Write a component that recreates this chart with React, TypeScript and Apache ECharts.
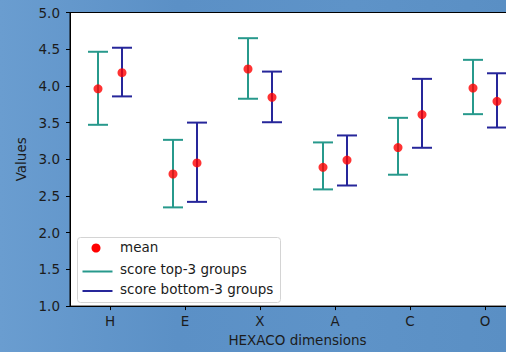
import React, { useEffect, useRef } from "react";
import * as echarts from "echarts";

const categories = ["H", "E", "X", "A", "C", "O"];
const topMean = [3.96, 2.8, 4.23, 2.89, 3.16, 3.97];
const topLow = [3.47, 2.345, 3.825, 2.59, 2.79, 3.615];
const topHigh = [4.465, 3.265, 4.65, 3.23, 3.565, 4.355];
const botMean = [4.18, 2.95, 3.845, 2.99, 3.61, 3.79];
const botLow = [3.857, 2.42, 3.505, 2.643, 3.157, 3.433];
const botHigh = [4.52, 3.5, 4.195, 3.325, 4.096, 4.172];

const OFFSET = 0.16;
const TEAL = "#27998c";
const NAVY = "#26269a";
const FONT = "DejaVu Sans";
const TXT = "#1c1c1c";

function errorSeries(name: string, color: string, low: number[], high: number[], off: number) {
  const data = categories.map((_, i) => [i + off, low[i], high[i]]);
  return {
    type: "custom",
    name,
    data,
    encode: { x: 0, y: [1, 2] },
    renderItem: (params: any, api: any) => {
      const x = api.value(0);
      const lo = api.coord([x, api.value(1)]);
      const hi = api.coord([x, api.value(2)]);
      const cap = 10;
      const style = { stroke: color, lineWidth: 2 };
      return {
        type: "group",
        children: [
          { type: "line", shape: { x1: lo[0], y1: lo[1], x2: hi[0], y2: hi[1] }, style },
          { type: "line", shape: { x1: lo[0] - cap, y1: lo[1], x2: lo[0] + cap, y2: lo[1] }, style },
          { type: "line", shape: { x1: hi[0] - cap, y1: hi[1], x2: hi[0] + cap, y2: hi[1] }, style },
        ],
      };
    },
    z: 2,
  };
}

export default function App() {
  const ref = useRef<HTMLDivElement>(null);
  useEffect(() => {
    if (!ref.current) return;
    const chart = echarts.init(ref.current, null, { renderer: "svg" });
    const meanData = [
      ...categories.map((_, i) => [i - OFFSET, topMean[i]]),
      ...categories.map((_, i) => [i + OFFSET, botMean[i]]),
    ];
    const legendText = (text: string, y: number) => ({
      type: "text",
      left: 120,
      top: y - 8,
      style: { text, font: `13.5px "${FONT}"`, fill: TXT },
      z: 20,
    });
    chart.setOption({
      animation: false,
      backgroundColor: "transparent",
      grid: {
        left: 70,
        top: 12.5,
        bottom: 44,
        right: 5,
        show: true,
        backgroundColor: "#ffffff",
        borderColor: "#000000",
        borderWidth: 1,
      },
      xAxis: {
        type: "value",
        min: -0.5333,
        max: 5.5333,
        name: "HEXACO dimensions",
        nameLocation: "middle",
        nameGap: 26,
        nameTextStyle: { fontFamily: FONT, fontSize: 13.5, color: TXT },
        axisLine: { show: true, onZero: false, lineStyle: { color: "#000", width: 1 } },
        axisTick: { show: true, length: 4, customValues: [0, 1, 2, 3, 4, 5], lineStyle: { color: "#000" } },
        axisLabel: {
          customValues: [0, 1, 2, 3, 4, 5],
          formatter: (v: number) => categories[Math.round(v)] ?? "",
          fontFamily: FONT,
          fontSize: 13.5,
          color: TXT,
          margin: 8,
        },
        splitLine: { show: false },
      },
      yAxis: {
        type: "value",
        min: 1,
        max: 5,
        interval: 0.5,
        name: "Values",
        nameLocation: "middle",
        nameGap: 40,
        nameTextStyle: { fontFamily: FONT, fontSize: 13.5, color: TXT },
        axisLine: { show: true, onZero: false, lineStyle: { color: "#000", width: 1 } },
        axisTick: { show: true, length: 4, lineStyle: { color: "#000" } },
        axisLabel: {
          formatter: (v: number) => v.toFixed(1),
          fontFamily: FONT,
          fontSize: 13.5,
          color: TXT,
          margin: 10,
        },
        splitLine: { show: false },
      },
      series: [
        errorSeries("score top-3 groups", TEAL, topLow, topHigh, -OFFSET),
        errorSeries("score bottom-3 groups", NAVY, botLow, botHigh, OFFSET),
        {
          type: "scatter",
          name: "mean",
          data: meanData,
          symbol: "circle",
          symbolSize: 9,
          itemStyle: { color: "#ff0000" },
          z: 5,
        },
      ],
      graphic: [
        {
          type: "rect",
          left: 77,
          top: 237,
          shape: { width: 203, height: 65, r: 3 },
          style: { fill: "rgba(255,255,255,0.85)", stroke: "#d4d4d4", lineWidth: 1 },
          z: 10,
        },
        { type: "circle", left: 91.5, top: 243.5, shape: { r: 4.5 }, style: { fill: "#ff0000" }, z: 20 },
        { type: "line", left: 80, top: 269, shape: { x1: 0, y1: 0, x2: 30, y2: 0 }, style: { stroke: TEAL, lineWidth: 2 }, z: 20 },
        { type: "line", left: 80, top: 288.5, shape: { x1: 0, y1: 0, x2: 30, y2: 0 }, style: { stroke: NAVY, lineWidth: 2 }, z: 20 },
        legendText("mean", 248),
        legendText("score top-3 groups", 270),
        legendText("score bottom-3 groups", 289.5),
      ],
    });
    return () => chart.dispose();
  }, []);
  return (
    <div
      style={{
        position: "fixed",
        left: 0,
        top: 0,
        width: 506,
        height: 352,
        overflow: "hidden",
        background: "linear-gradient(90deg, #6a9dd0 0%, #5b90c6 35%, #5e93c8 70%, #5a8fc4 100%)",
      }}
    >
      <div ref={ref} style={{ width: 530, height: 352 }} />
    </div>
  );
}
